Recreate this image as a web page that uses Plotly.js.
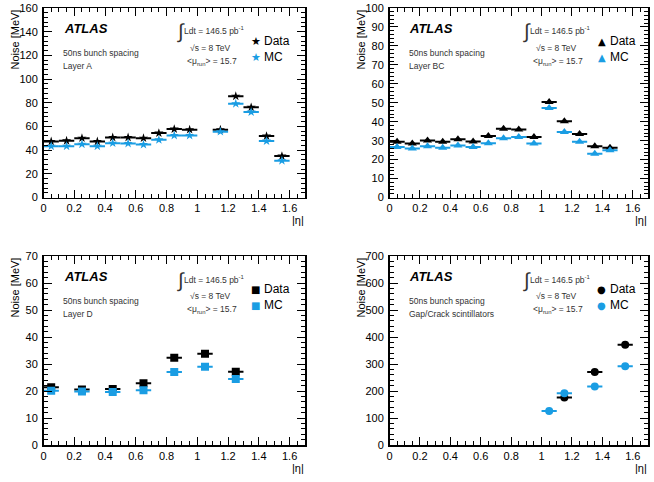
<!DOCTYPE html>
<html>
<head>
<meta charset="utf-8">
<script src="https://cdn.plot.ly/plotly-3.0.1.min.js"></script>
<style>html,body{margin:0;padding:0;background:#fff;}#chart{width:654px;height:482px;}</style>
</head>
<body>
<div id="chart"></div>
<script>
// ---- data ----
const etaA = [0.05,0.15,0.25,0.35,0.45,0.55,0.65,0.75,0.85,0.95,1.15,1.25,1.35,1.45,1.55];
const dataA = [47.3,47.9,50.1,47.3,50.7,50.7,50.1,54.4,57.8,57.3,57.3,85.5,76.1,51.9,35.0];
const mcA   = [43.3,43.3,45.0,43.3,45.9,45.6,44.7,48.7,52.4,52.4,55.6,79.2,72.1,47.6,31.1];

const etaBC = [0.05,0.15,0.25,0.35,0.45,0.55,0.65,0.75,0.85,0.95,1.05,1.15,1.25,1.35,1.45];
const dataBC = [29.4,28.5,30.1,29.4,30.8,29.5,32.4,36.3,35.9,31.9,50.4,40.2,33.5,27.0,26.3];
const mcBC   = [26.7,25.8,27.0,26.3,27.4,26.7,28.6,31.3,31.9,28.5,47.2,34.5,29.4,23.1,24.9];

const etaD = [0.05,0.25,0.45,0.65,0.85,1.05,1.25];
const dataD = [21.4,20.6,20.7,22.9,32.3,33.8,27.1];
const mcD   = [20.1,19.8,19.6,20.3,27.0,29.0,24.4];

const etaG = [1.05,1.15,1.35,1.55];
const dataG = [null,176,270,371];
const mcG   = [126,192,217,292];

const layerLabels = ["Layer A","Layer BC","Layer D","Gap/Crack scintillators"];
const seriesNames = ["Data","MC"];
const yRanges = [[0,160],[0,100],[0,70],[0,700]];
const yDticks = [20,10,10,100];
const yMinor = [4,2,2,20];
const symbols = ["star","triangle-up","square","circle"];
const glyphs = ["★","▲","■","●"];
const msizes = [7,8,8,8];

const W = 654, H = 482;
const BLUE = "#1a9de3";
const FONT = "Liberation Sans, Arial, sans-serif";

// panel pixel boxes [left, right, top, bottom]
const boxes = [[43.5,305,8,197.5],[389.5,648,8,197.5],[43.5,305,256,445],[389.5,648,256,445]];

const series = [[etaA,dataA,mcA],[etaBC,dataBC,mcBC],[etaD,dataD,mcD],[etaG,dataG,mcG]];

const traces = [];
const layout = {
  width: W, height: H,
  margin: {l:0,r:0,t:0,b:0},
  paper_bgcolor: "#fff", plot_bgcolor: "#fff",
  showlegend: false,
  font: {family: FONT, color: "#000", size: 11},
  annotations: []
};

function px(x){return x/W;}
function py(y){return 1 - y/H;}

for (let i=0;i<4;i++){
  const n = i+1;
  const xa = n===1 ? "x" : "x"+n;
  const ya = n===1 ? "y" : "y"+n;
  const [eta, d, m] = series[i];
  const b = boxes[i];
  traces.push({
    type:"scatter", mode:"markers", x: eta, y: d, name:seriesNames[0],
    xaxis: xa, yaxis: ya,
    marker:{symbol:symbols[i], size:msizes[i], color:"#000"},
    error_x:{type:"constant", value:0.05, width:0, thickness:2, color:"#000"}
  });
  traces.push({
    type:"scatter", mode:"markers", x: eta, y: m, name:seriesNames[1],
    xaxis: xa, yaxis: ya,
    marker:{symbol:symbols[i], size:msizes[i], color:BLUE},
    error_x:{type:"constant", value:0.05, width:0, thickness:2, color:BLUE}
  });
  const axBase = {
    showgrid:false, zeroline:false, showline:true, linecolor:"#000", linewidth:1.5,
    mirror:"ticks", ticks:"inside", tickcolor:"#000", tickwidth:1,
    tickfont:{family:FONT, size:11, color:"#000"}
  };
  layout["xaxis"+(n===1?"":n)] = Object.assign({}, axBase, {
    domain:[px(b[0]), px(b[1])], anchor: ya, range:[0,1.7],
    dtick:0.2, tick0:0, ticklen:8,
    minor:{ticks:"inside", dtick:0.05, ticklen:4, tickcolor:"#000", tickwidth:1}
  });
  layout["yaxis"+(n===1?"":n)] = Object.assign({}, axBase, {
    domain:[py(b[3]), py(b[2])], anchor: xa, range:yRanges[i],
    dtick:yDticks[i], tick0:0, ticklen:8, ticklabelstandoff:2,
    minor:{ticks:"inside", dtick:yMinor[i], ticklen:4, tickcolor:"#000", tickwidth:1}
  });
  const ann = (txt, x, y, opts) => layout.annotations.push(Object.assign({
    text: txt, x: px(x), y: py(y), xref:"paper", yref:"paper", showarrow:false,
    xanchor:"left", yanchor:"middle", font:{family:FONT, size:8.5, color:"#333"}
  }, opts||{}));
  ann("<b><i>ATLAS</i></b>", b[0]+18, b[2]+20, {font:{family:FONT, size:13, color:"#000"}});
  ann("50ns bunch spacing", b[0]+17, b[2]+45);
  ann(layerLabels[i], b[0]+17, b[2]+58);
  ann("∫", b[0]+131, b[2]+24, {font:{family:FONT, size:20, color:"#333"}});
  ann("Ldt = 146.5 pb<sup>-1</sup>", b[0]+138, b[2]+23);
  ann("√s = 8 TeV", b[0]+167, b[2]+40, {xanchor:"center"});
  ann("&lt;μ<sub>run</sub>&gt; = 15.7", b[0]+168, b[2]+53, {xanchor:"center"});
  // legend
  const gs = i===0 ? 11 : 10;
  ann(glyphs[i], b[0]+212, b[2]+33, {xanchor:"center", font:{family:"DejaVu Sans", size:gs, color:"#000"}});
  ann(seriesNames[0], b[0]+218, b[2]+33, {font:{family:FONT, size:12, color:"#000"}});
  ann(glyphs[i], b[0]+212, b[2]+49, {xanchor:"center", font:{family:"DejaVu Sans", size:gs, color:BLUE}});
  ann(seriesNames[1], b[0]+218, b[2]+49, {font:{family:FONT, size:12, color:"#000"}});
  ann("Noise [MeV]", b[0]-29, b[2], {textangle:-90, xanchor:"center", yanchor:"top", font:{family:FONT, size:11, color:"#000"}});
  ann("|η|", b[1]-7, b[3]+23, {xanchor:"center", font:{family:FONT, size:11, color:"#000"}});
}

Plotly.newPlot("chart", traces, layout, {staticPlot:true});
</script>
</body>
</html>
